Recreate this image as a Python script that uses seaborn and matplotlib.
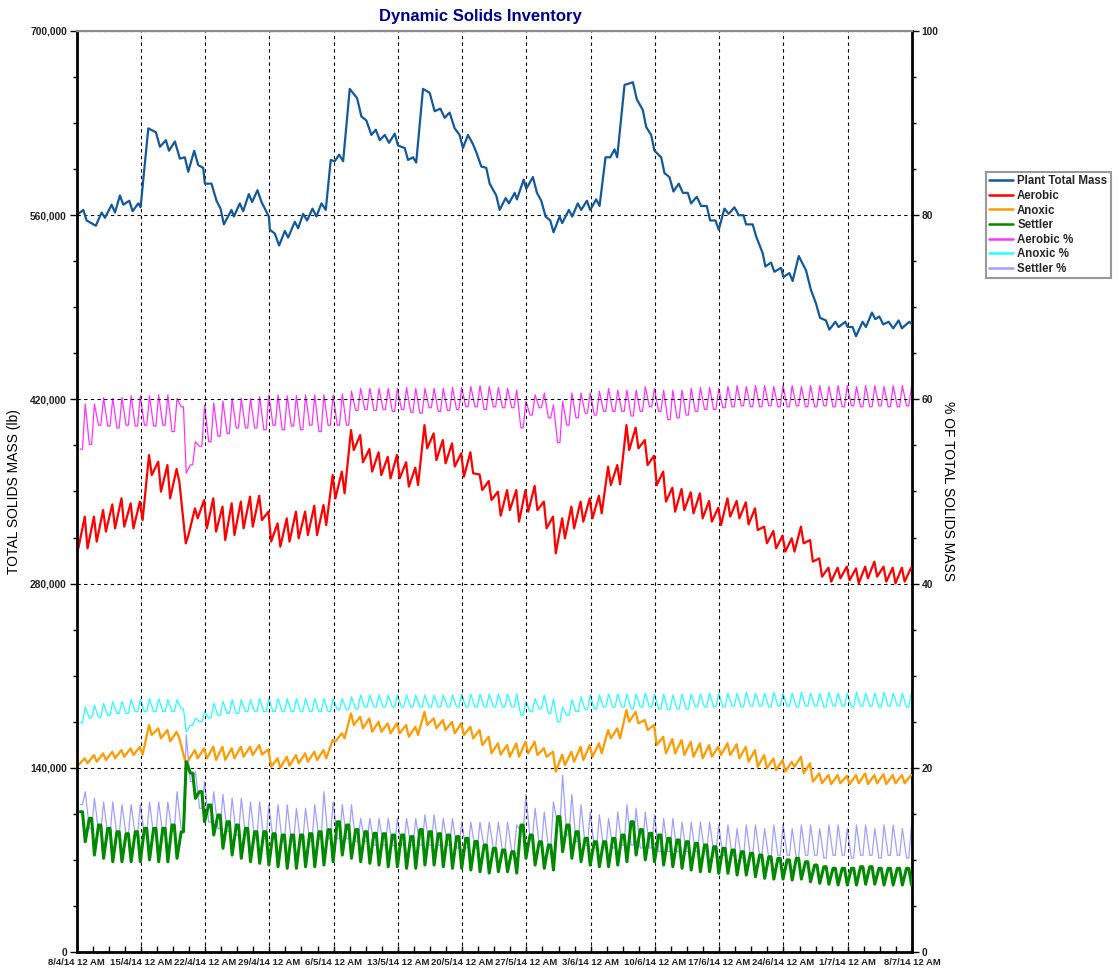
import numpy as np
import pandas as pd
import matplotlib
matplotlib.use("Agg")
import matplotlib.pyplot as plt
import matplotlib.dates as mdates
from matplotlib.ticker import MultipleLocator, FuncFormatter
import seaborn as sns

sns.set_theme(style="white")
plt.rcParams["font.family"] = ["Liberation Sans", "DejaVu Sans"]
plt.rcParams["font.weight"] = "bold"

# ---------------------------------------------------------------- data
start_date = "2014-04-08"
end_date = "2014-07-08"
week_labels = ["8/4/14 12 AM", "15/4/14 12 AM", "22/4/14 12 AM", "29/4/14 12 AM",
               "6/5/14 12 AM", "13/5/14 12 AM", "20/5/14 12 AM", "27/5/14 12 AM",
               "3/6/14 12 AM", "10/6/14 12 AM", "17/6/14 12 AM", "24/6/14 12 AM",
               "1/7/14 12 AM", "8/7/14 12 AM"]

# Plant total mass (thousand lb) at day offsets from the start date
plant_days = [0.0, 0.74, 1.1, 2.1, 2.74, 3.1, 3.83, 4.19, 4.73, 5.1, 5.75, 6.11, 6.73, 6.98,
              7.82, 8.65, 9.09, 9.74, 10.07, 10.72, 11.26, 11.8, 12.17, 12.82, 13.26, 13.8,
              13.98, 14.7, 15.25, 15.69, 16.05, 16.88, 17.14, 17.79, 18.15, 18.77, 19.13,
              19.71, 20.15, 20.95, 21.06, 21.6, 22.07, 22.69, 23.05, 23.78, 24.14, 24.68,
              25.12, 25.7, 26.13, 26.68, 27.15, 27.69, 28.13, 28.6, 29.04, 29.76, 30.56,
              31.03, 31.57, 32.12, 32.6, 33.03, 33.57, 34.04, 34.66, 35.02, 35.75, 36.11,
              36.65, 37.0, 37.74, 38.47, 39.01, 39.63, 40.1, 40.64, 41.19, 41.73, 42.09,
              42.64, 43.18, 43.54, 44.09, 44.63, 45.0, 45.72, 46.09, 46.74, 47.1, 47.72,
              47.97, 48.7, 48.99, 49.71, 50.15, 50.62, 51.09, 51.6, 51.96, 52.62, 52.9,
              53.63, 53.99, 54.6, 54.97, 55.59, 55.95, 56.6, 56.97, 57.62, 58.13, 58.6,
              58.89, 59.69, 60.6, 61.03, 61.68, 62.05, 62.59, 62.95, 63.68, 64.04, 64.58,
              65.02, 65.6, 66.04, 66.58, 66.94, 67.56, 68.03, 68.65, 69.01, 69.59, 69.95,
              70.57, 71.04, 71.66, 72.13, 72.64, 72.93, 73.65, 74.02, 74.74, 75.03, 75.65,
              76.01, 76.74, 76.99, 77.64, 78.0, 78.66, 79.46, 80.0, 80.54, 80.98, 81.63,
              82.0, 82.65, 83.01, 83.74, 83.99, 84.53, 84.9, 85.62, 85.98, 86.64, 87.0,
              87.44, 87.87, 88.45, 88.96, 89.54, 89.9, 90.7, 91.0]
plant_total = [560, 564, 556, 552, 562, 558, 568, 562, 575, 568, 571, 563, 569, 566,
               626, 623, 612, 617, 609, 616, 603, 604, 593, 609, 598, 596,
               584, 584, 571, 565, 553, 564, 559, 569, 563, 576, 570,
               579, 570, 559, 549, 546, 537, 548, 543, 555, 550, 561,
               556, 565, 559, 569, 564, 602, 601, 606, 601, 656, 649,
               635, 632, 621, 625, 617, 621, 615, 622, 613, 611, 602,
               604, 600, 656, 653, 639, 641, 634, 638, 626, 621, 611,
               621, 614, 608, 597, 596, 584, 575, 564, 573, 569, 577,
               572, 587, 580, 589, 577, 571, 559, 556, 547, 559, 554,
               564, 559, 569, 564, 571, 564, 572, 567, 604, 604, 610,
               604, 659, 661, 648, 640, 627, 621, 609, 604, 592, 589,
               578, 584, 577, 577, 569, 574, 567, 567, 556, 556, 549,
               565, 561, 566, 560, 560, 553, 553, 544, 531, 521, 524,
               517, 520, 513, 516, 510, 529, 518, 503, 493, 482, 480,
               473, 479, 475, 479, 475, 475, 468, 479, 475, 486, 481,
               483, 477, 479, 474, 480, 474, 479, 477]

# Daily readings, one value per day (thousand lb): early-day trough, late-day peak
aerobic_low = [306.8, 306.8, 311.9, 319.5, 322.0, 323.3, 322.0, 328.3, 362.5, 349.9,
               344.8, 357.5, 317.0, 329.6, 322.0, 319.5, 313.1, 316.9, 322.0, 323.3,
               328.3, 311.9, 308.1, 311.9, 314.4, 316.9, 316.9, 324.5, 344.8, 348.6,
               381.5, 372.2, 365.1, 362.5, 360.0, 360.0, 353.7, 354.9, 382.8, 373.9,
               371.4, 368.9, 361.3, 363.8, 351.1, 343.5, 331.6, 335.9, 327.1, 334.7,
               335.9, 322.0, 303.0, 314.4, 322.0, 327.1, 329.6, 333.4, 354.9, 355.5,
               381.5, 382.8, 370.1, 354.9, 342.3, 334.7, 335.9, 333.4, 329.6, 327.1,
               324.5, 330.9, 329.6, 325.0, 320.7, 310.6, 306.8, 304.3, 304.3, 310.6,
               296.7, 285.3, 281.5, 284.0, 282.5, 280.2, 284.0, 285.3, 281.5, 280.2, 281.5]
aerobic_high = [330.9, 330.9, 335.9, 340.2, 344.8, 341.0, 342.3, 377.7, 372.6, 370.1,
                367.1, 310.6, 337.2, 343.5, 344.8, 338.5, 341.0, 342.3, 346.1, 346.8,
                334.7, 325.8, 329.6, 334.7, 334.7, 339.2, 339.7, 362.5, 365.1, 396.7,
                392.9, 382.3, 379.8, 376.4, 377.7, 372.2, 368.1, 400.5, 394.2, 389.1,
                386.6, 379.0, 379.8, 363.0, 358.0, 349.9, 351.1, 351.1, 351.1, 354.2,
                342.3, 330.9, 329.6, 338.5, 342.3, 344.8, 346.8, 368.9, 370.1, 400.5,
                398.5, 389.1, 377.2, 365.1, 352.9, 351.9, 349.4, 348.6, 342.8, 337.7,
                344.8, 342.8, 341.8, 337.2, 323.3, 320.0, 316.4, 314.4, 323.3, 313.1,
                299.2, 292.1, 292.1, 292.9, 291.6, 292.9, 296.7, 292.9, 292.1, 292.1, 292.1]

anoxic_low = [142.1, 143.4, 144.6, 145.9, 147.2, 148.4, 149.7, 150.0, 164.9, 162.4,
              160.0, 162.4, 146.0, 147.2, 147.2, 146.0, 146.0, 147.2, 148.4, 149.7,
              150.0, 140.8, 140.0, 141.5, 143.4, 144.6, 145.9, 147.2, 160.0, 162.4,
              172.5, 170.0, 167.4, 167.4, 166.2, 166.2, 163.6, 164.9, 172.5, 170.0,
              168.7, 166.2, 164.9, 162.4, 157.3, 151.0, 150.0, 148.4, 148.4, 151.0,
              149.7, 148.4, 137.0, 142.1, 144.6, 146.0, 148.4, 151.0, 162.4, 162.4,
              175.0, 173.8, 168.7, 157.3, 151.0, 151.0, 149.7, 148.4, 147.2, 148.4,
              149.7, 149.7, 147.2, 144.6, 140.8, 139.6, 138.3, 137.0, 140.8, 135.8,
              129.4, 128.2, 127.6, 128.2, 127.6, 128.2, 127.6, 128.2, 127.6, 128.2, 128.2]
anoxic_high = [147.2, 149.7, 151.0, 152.2, 153.5, 154.8, 156.0, 172.5, 170.0, 168.7,
               167.4, 143.4, 153.5, 154.8, 156.0, 156.0, 154.8, 156.0, 156.0, 157.3,
               154.0, 147.2, 148.4, 149.7, 151.0, 152.2, 153.5, 161.1, 166.2, 181.4,
               178.8, 177.6, 175.0, 173.8, 173.8, 172.5, 171.2, 182.6, 177.6, 176.3,
               175.0, 173.8, 171.2, 168.7, 163.6, 158.6, 157.3, 158.6, 159.8, 159.8,
               154.8, 152.2, 150.0, 152.2, 156.0, 157.3, 158.6, 168.7, 170.0, 183.9,
               182.6, 176.3, 172.5, 163.6, 161.9, 161.1, 159.8, 158.6, 157.3, 156.0,
               158.6, 157.9, 156.0, 153.5, 149.7, 147.2, 145.9, 144.6, 148.4, 143.4,
               135.8, 134.5, 134.5, 133.9, 134.5, 135.8, 134.5, 135.2, 134.5, 134.5, 134.5]

# Settler: daily plateau level and the short daily draw-down
settler_level = [106.6, 101.6, 96.5, 94.0, 91.4, 89.9, 91.4, 94.0, 94.0, 94.0,
                 96.5, 91.4, 136.0, 121.9, 111.7, 104.1, 99.0, 96.5, 94.0, 91.4,
                 91.4, 89.9, 88.9, 88.9, 88.9, 89.9, 91.4, 93.0, 99.0, 96.5,
                 93.0, 91.4, 90.2, 89.9, 88.9, 88.9, 87.7, 93.0, 91.4, 89.9,
                 88.9, 87.7, 86.4, 84.0, 81.3, 78.8, 77.5, 76.2, 96.5, 88.9,
                 83.8, 81.3, 102.9, 96.5, 91.4, 86.4, 83.8, 83.8, 86.4, 88.9,
                 99.0, 93.0, 90.2, 88.9, 86.4, 85.1, 83.8, 82.6, 81.3, 80.0,
                 78.8, 77.5, 76.2, 75.0, 73.7, 72.4, 71.2, 70.0, 71.2, 68.6,
                 66.1, 64.8, 63.6, 63.6, 63.6, 64.8, 64.8, 63.6, 63.6, 63.6, 63.6]
settler_dip = [83.8, 73.7, 71.2, 68.6, 68.6, 68.6, 68.6, 70.0, 68.6, 68.6,
               71.2, 144.6, 116.8, 99.0, 88.9, 78.8, 73.7, 71.2, 68.6, 67.4,
               66.1, 64.8, 63.6, 63.6, 64.8, 64.8, 66.1, 68.6, 73.7, 71.2,
               68.6, 67.4, 66.1, 64.8, 64.8, 63.6, 63.6, 66.1, 66.1, 64.8,
               63.6, 63.6, 62.3, 61.0, 60.0, 61.0, 61.0, 60.0, 71.2, 66.1,
               63.6, 62.3, 76.2, 71.2, 68.6, 66.1, 64.8, 64.8, 66.1, 68.6,
               73.7, 70.0, 68.6, 66.1, 64.8, 63.6, 62.3, 61.0, 61.0, 59.8,
               59.8, 58.5, 58.5, 57.2, 56.0, 55.4, 55.4, 54.7, 55.4, 53.4,
               52.2, 51.5, 50.9, 50.9, 50.9, 51.5, 51.5, 50.9, 50.9, 50.9, 50.9]

# Shares of total solids (%): daily base value and daily spike value
aerobic_pct_base = [54.6, 55.1, 57.2, 57.1, 56.9, 57.2, 57.1, 57.2, 57.1, 57.2,
                    56.5, 59.2, 52.9, 54.9, 55.4, 56.0, 56.3, 56.9, 56.9, 56.9,
                    56.7, 57.2, 56.7, 57.1, 56.7, 57.2, 56.5, 57.2, 57.2, 57.2,
                    58.8, 58.9, 58.8, 58.9, 58.7, 58.9, 58.6, 58.5, 59.1, 58.7,
                    58.8, 58.9, 59.2, 59.2, 58.9, 59.2, 59.1, 59.1, 56.9, 58.3,
                    59.1, 58.0, 55.3, 57.2, 58.0, 58.5, 58.3, 58.7, 58.7, 58.7,
                    58.2, 58.7, 59.2, 58.7, 57.8, 58.0, 58.3, 58.7, 58.9, 58.9,
                    59.1, 59.2, 59.3, 59.2, 59.2, 59.3, 59.2, 59.2, 59.3, 59.2,
                    59.2, 59.3, 59.2, 59.2, 59.3, 59.2, 59.2, 59.3, 59.2, 59.2, 59.3]
aerobic_pct_spike = [59.5, 59.5, 60.2, 60.1, 60.2, 60.4, 60.4, 60.4, 60.5, 60.5,
                     60.1, 52.0, 55.4, 59.4, 59.6, 59.8, 60.1, 60.1, 60.1, 60.3,
                     60.5, 60.5, 60.4, 60.4, 60.5, 60.5, 60.5, 60.5, 60.6, 60.9,
                     61.2, 61.2, 61.2, 61.2, 61.2, 61.3, 61.2, 61.2, 61.2, 61.2,
                     61.3, 61.3, 61.4, 61.5, 61.4, 61.3, 61.2, 61.0, 59.8, 60.5,
                     60.7, 59.4, 59.8, 60.7, 60.7, 60.7, 60.9, 61.2, 61.0, 61.0,
                     61.0, 61.4, 61.2, 61.0, 61.0, 61.0, 61.2, 61.3, 61.3, 61.2,
                     61.4, 61.5, 61.4, 61.5, 61.5, 61.4, 61.5, 61.5, 61.4, 61.5,
                     61.5, 61.4, 61.5, 61.5, 61.4, 61.5, 61.5, 61.4, 61.5, 61.5, 61.4]

anoxic_pct_base = [24.9, 25.4, 25.5, 25.7, 25.9, 25.9, 26.1, 26.1, 26.1, 26.1,
                   26.1, 26.4, 24.6, 25.0, 25.4, 25.7, 25.9, 25.9, 26.1, 26.1,
                   26.1, 26.1, 26.1, 26.1, 26.1, 26.1, 26.1, 26.1, 26.3, 26.3,
                   26.4, 26.6, 26.6, 26.6, 26.6, 26.6, 26.6, 26.6, 26.6, 26.6,
                   26.6, 26.6, 26.6, 26.6, 26.6, 26.6, 26.6, 26.6, 25.7, 26.1,
                   26.4, 25.9, 25.0, 25.7, 26.1, 26.3, 26.4, 26.6, 26.6, 26.6,
                   26.4, 26.6, 26.6, 26.4, 26.3, 26.4, 26.4, 26.6, 26.6, 26.6,
                   26.6, 26.7, 26.6, 26.7, 26.7, 26.6, 26.7, 26.7, 26.6, 26.7,
                   26.7, 26.6, 26.7, 26.7, 26.6, 26.7, 26.7, 26.6, 26.7, 26.7, 26.6]
anoxic_pct_spike = [26.6, 26.8, 27.0, 27.2, 27.2, 27.4, 27.4, 27.5, 27.5, 27.4,
                    27.4, 23.9, 25.4, 26.1, 27.0, 27.2, 27.4, 27.4, 27.4, 27.5,
                    27.5, 27.5, 27.5, 27.5, 27.5, 27.5, 27.5, 27.5, 27.5, 27.7,
                    27.9, 27.9, 27.9, 27.9, 27.9, 27.9, 27.9, 27.9, 27.9, 27.9,
                    27.9, 28.0, 28.0, 28.0, 28.0, 28.0, 28.0, 28.0, 27.2, 27.5,
                    27.9, 27.5, 26.6, 27.4, 27.7, 27.9, 27.9, 28.0, 28.0, 28.0,
                    28.0, 28.1, 28.0, 28.0, 27.9, 28.0, 28.0, 28.0, 28.1, 28.1,
                    28.1, 28.1, 28.2, 28.1, 28.1, 28.2, 28.1, 28.1, 28.2, 28.1,
                    28.1, 28.2, 28.1, 28.1, 28.2, 28.1, 28.1, 28.2, 28.1, 28.1, 28.2]

settler_pct_base = [16.0, 13.4, 13.1, 12.7, 12.7, 12.7, 12.7, 12.7, 12.7, 12.7,
                    13.1, 13.4, 18.5, 15.6, 14.1, 13.4, 13.1, 12.7, 12.7, 12.3,
                    12.3, 12.3, 12.0, 12.0, 12.0, 12.0, 12.3, 12.3, 12.3, 12.3,
                    12.0, 12.0, 11.6, 11.6, 11.6, 11.6, 11.6, 11.6, 11.6, 11.6,
                    11.6, 11.3, 11.3, 11.3, 11.3, 11.3, 10.9, 10.9, 13.1, 12.3,
                    11.6, 11.3, 13.8, 12.7, 12.0, 11.6, 11.3, 11.3, 11.3, 11.6,
                    11.6, 11.3, 11.3, 10.9, 10.9, 10.9, 10.9, 10.9, 10.9, 10.9,
                    10.5, 10.5, 10.2, 10.5, 10.5, 10.2, 10.5, 10.5, 10.2, 10.5,
                    10.5, 10.2, 10.5, 10.5, 10.2, 10.5, 10.5, 10.2, 10.5, 10.5, 10.2]
settler_pct_spike = [17.4, 16.7, 16.3, 16.3, 16.0, 16.0, 16.0, 16.3, 16.3, 16.3,
                     17.4, 23.6, 19.6, 18.5, 17.4, 17.1, 16.7, 16.7, 16.3, 16.3,
                     16.0, 16.0, 16.0, 15.6, 15.6, 16.0, 17.4, 16.3, 16.0, 16.0,
                     14.5, 14.5, 14.5, 14.5, 14.5, 14.5, 14.5, 14.9, 14.9, 14.5,
                     14.5, 14.1, 14.1, 14.1, 14.1, 14.1, 14.1, 13.8, 17.1, 15.6,
                     15.2, 16.3, 19.2, 17.1, 16.0, 15.2, 14.9, 14.5, 15.2, 16.0,
                     15.6, 15.2, 14.9, 14.5, 14.5, 14.1, 14.1, 14.1, 14.1, 13.8,
                     13.8, 13.4, 13.8, 13.8, 13.4, 13.8, 13.8, 13.4, 13.8, 13.8,
                     13.4, 13.8, 13.8, 13.4, 13.8, 13.8, 13.4, 13.8, 13.8, 13.4, 13.8]


# ---------------------------------------------------------------- helpers
def to_time(offsets):
    return pd.Timestamp(start_date) + pd.to_timedelta(np.asarray(offsets, float), unit="D")


def daily_frame(first, second, shape, scale=1.0):
    """Lay the two daily readings out in time: a sawtooth (trough then peak)
    or a short spike (base held for part of the day, then the spike)."""
    first = np.asarray(first, float) * scale
    second = np.asarray(second, float) * scale
    d = np.arange(len(first), dtype=float)
    if shape == "saw":
        t = np.column_stack([d + 0.2, d + 0.9]).ravel()
        v = np.column_stack([first, second]).ravel()
    else:
        t = np.column_stack([d + 0.4, d + 0.65, d + 0.95]).ravel()
        v = np.column_stack([first, first, second]).ravel()
    return pd.DataFrame({"time": to_time(t), "value": v})


plant_df = pd.DataFrame({"time": to_time(plant_days),
                         "value": np.asarray(plant_total, float) * 1000})
aerobic_df = daily_frame(aerobic_low, aerobic_high, "saw", 1000)
anoxic_df = daily_frame(anoxic_low, anoxic_high, "saw", 1000)
settler_df = daily_frame(settler_level, settler_dip, "spike", 1000)
aerobic_pct_df = daily_frame(aerobic_pct_base, aerobic_pct_spike, "spike")
anoxic_pct_df = daily_frame(anoxic_pct_base, anoxic_pct_spike, "spike")
settler_pct_df = daily_frame(settler_pct_base, settler_pct_spike, "spike")

# ---------------------------------------------------------------- figure
W, H = 1118, 975
fig = plt.figure(figsize=(W / 100, H / 100), dpi=100)
ax = fig.add_axes([76.5 / W, 23 / H, (912 - 76.5) / W, (952 - 31) / H])
ax2 = ax.twinx()

pct_series = [
    (aerobic_pct_df, "Aerobic %", "#FF33FF", 0.9),
    (anoxic_pct_df, "Anoxic %", "#22FFFF", 0.9),
    (settler_pct_df, "Settler %", "#A0A0FF", 0.9),
]
mass_series = [
    (plant_df, "Plant Total Mass", "#12599C", 1.6),
    (aerobic_df, "Aerobic", "#FF0000", 1.6),
    (anoxic_df, "Anoxic", "#FF9A00", 1.6),
    (settler_df, "Settler", "#008A00", 2.2),
]
for df, name, color, lw in pct_series:
    sns.lineplot(data=df, x="time", y="value", ax=ax2, color=color, linewidth=lw,
                 label=name, estimator=None, sort=False)
for df, name, color, lw in mass_series:
    sns.lineplot(data=df, x="time", y="value", ax=ax, color=color, linewidth=lw,
                 label=name, estimator=None, sort=False)

# mass lines above the percentage lines
ax.set_zorder(ax2.get_zorder() + 1)
ax.patch.set_visible(False)

# axes ranges and ticks
t0, t1 = pd.Timestamp(start_date), pd.Timestamp(end_date)
ax.set_xlim(mdates.date2num(t0), mdates.date2num(t1))
ax.set_ylim(0, 700000)
ax2.set_ylim(0, 100)

week_ticks = pd.date_range(t0, t1, freq="7D")
ax.set_xticks(mdates.date2num(week_ticks))
ax.set_xticklabels(week_labels)
ax.set_xticks(mdates.date2num(pd.date_range(t0, t1, freq="42h")), minor=True)

ax.yaxis.set_major_locator(MultipleLocator(140000))
ax.yaxis.set_minor_locator(MultipleLocator(35000))
ax.yaxis.set_major_formatter(FuncFormatter(lambda v, p: f"{v:,.0f}"))
ax2.yaxis.set_major_locator(MultipleLocator(20))
ax2.yaxis.set_minor_locator(MultipleLocator(5))
ax2.yaxis.set_major_formatter(FuncFormatter(lambda v, p: f"{v:.0f}"))

ax.tick_params(axis="y", which="major", direction="out", length=5, width=1,
               labelsize=7.4, pad=2, color="black", labelcolor="#222222", left=True)
ax.tick_params(axis="y", which="minor", direction="out", length=3, width=1,
               color="black", left=True)
ax.tick_params(axis="x", which="both", direction="in", length=4, width=1,
               labelsize=6.8, pad=4, color="black", labelcolor="#222222", bottom=True)
ax2.tick_params(axis="y", which="major", direction="out", length=5, width=1,
                labelsize=7.4, pad=2, color="black", labelcolor="#222222", right=True)
ax2.tick_params(axis="y", which="minor", direction="out", length=3, width=1,
                color="black", right=True)

ax.set_xlabel("")
ax.set_ylabel("TOTAL SOLIDS MASS (lb)", fontsize=10, fontweight="normal", color="black")
ax.yaxis.set_label_coords(-0.066, 0.5)
ax2.set_ylabel("% OF TOTAL SOLIDS MASS", fontsize=10, fontweight="normal",
               color="black", rotation=270, va="bottom")
ax2.yaxis.set_label_coords(1.035, 0.5)

# dashed grid on the major ticks
ax.grid(True, which="major", axis="both", linestyle=(0, (3, 3)), color="black",
        linewidth=0.8)

# frame
for side in ("left", "bottom"):
    ax.spines[side].set_color("black")
    ax.spines[side].set_linewidth(2)
ax.spines["right"].set_visible(False)
ax.spines["top"].set_color("#8C8C8C")
ax.spines["top"].set_linewidth(1.6)
for side in ("left", "bottom", "top"):
    ax2.spines[side].set_visible(False)
ax2.spines["right"].set_color("black")
ax2.spines["right"].set_linewidth(2)

fig.text(480 / W, 1 - 16 / H, "Dynamic Solids Inventory", ha="center", va="center",
         fontsize=12, fontweight="bold", color="#00008F")

# legend outside on the right
h1, l1 = ax.get_legend_handles_labels()
h2, l2 = ax2.get_legend_handles_labels()
for a in (ax, ax2):
    if a.get_legend() is not None:
        a.get_legend().remove()
leg = fig.legend(h1 + h2, l1 + l2, loc="upper left",
                 bbox_to_anchor=(986 / W, 1 - 172 / H), frameon=True, fancybox=False,
                 edgecolor="#808080", fontsize=8.3, handlelength=2.0, handletextpad=0.4,
                 labelspacing=0.22, borderpad=0.3, borderaxespad=0)
leg.get_frame().set_linewidth(1.5)
for line in leg.get_lines():
    line.set_linewidth(1.8)

fig.savefig("out.png", dpi=100, facecolor="white")
